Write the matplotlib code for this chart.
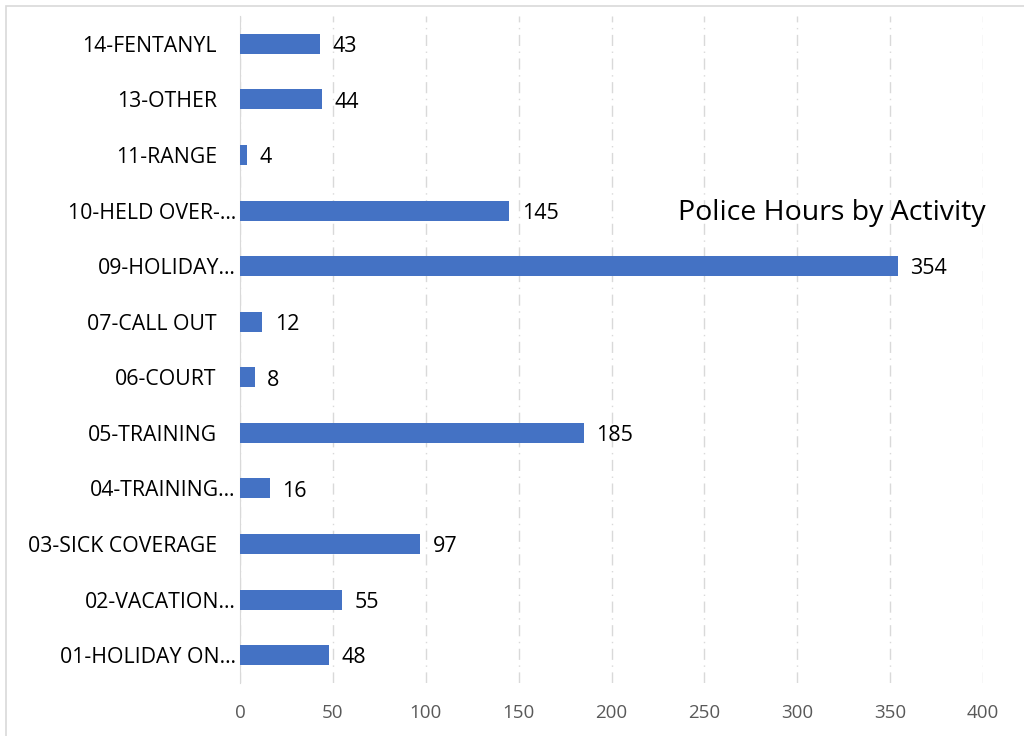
import matplotlib.pyplot as plt
import matplotlib.patches as mpatches
import matplotlib.transforms as mtransforms

categories = ['01-HOLIDAY ON\u2026', '02-VACATION\u2026', '03-SICK COVERAGE', '04-TRAINING\u2026',
              '05-TRAINING', '06-COURT', '07-CALL OUT', '09-HOLIDAY\u2026',
              '10-HELD OVER-\u2026', '11-RANGE', '13-OTHER', '14-FENTANYL']
hours = [48, 55, 97, 16, 185, 8, 12, 354, 145, 4, 44, 43]
xticks = [0, 50, 100, 150, 200, 250, 300, 350, 400]

plt.rcParams['font.family'] = ['Open Sans', 'DejaVu Sans']

fig = plt.figure(figsize=(10.24, 7.36), dpi=100)
fig.patches.append(mpatches.Rectangle((6 / 1024, -0.1), 1.2, 1 - 6 / 736 + 0.1,
                                      transform=fig.transFigure, fill=False,
                                      edgecolor='#d9d9d9', linewidth=1.2))
ax = fig.add_axes([240 / 1024, 1 - 683 / 736, (983 - 240) / 1024, (683 - 16) / 736])

y = range(len(categories))
ax.barh(y, hours, height=0.36, color='#4472c4', zorder=3)
for yi, v in zip(y, hours):
    ax.annotate(str(v), (v, yi), xytext=(9, -2), textcoords='offset points',
                ha='left', va='center', fontsize=15.5, color='black')

ax.set_xlim(0, 400)
ax.set_ylim(-0.5, len(categories) - 0.5)
ax.set_yticks(list(y))
ax.set_yticklabels(categories, fontsize=15.3, color='black')
ax.set_xticks(xticks)
ax.set_xticklabels([str(t) for t in xticks], fontsize=13.5, color='#595959')
ax.tick_params(length=0)
ax.tick_params(axis='x', pad=15)
ax.tick_params(axis='y', pad=3)
# full labels carry trailing space in the original, so they sit further left
for lab in ax.get_yticklabels():
    if not lab.get_text().endswith('\u2026'):
        lab.set_transform(lab.get_transform() +
                          mtransforms.ScaledTranslation(-19 / 100, 0, fig.dpi_scale_trans))
for s in ['top', 'right', 'bottom']:
    ax.spines[s].set_visible(False)
ax.spines['left'].set_color('#d9d9d9')
ax.grid(axis='x', color='#d9d9d9', linestyle=(0, (8, 4, 1, 4)), linewidth=1, zorder=0)
ax.set_axisbelow(True)

fig.text(678 / 1024, 1 - 213 / 736, 'Police Hours by Activity', fontsize=20.5,
         ha='left', va='center', color='black')

fig.savefig('out.png', dpi=100)
